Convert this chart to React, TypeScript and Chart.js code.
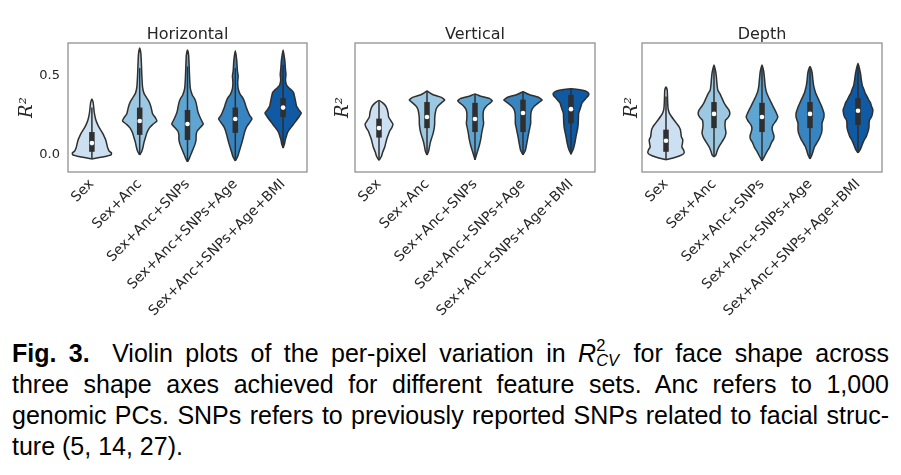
import React, { useEffect, useRef } from "react";
import { Chart, registerables } from "chart.js";

Chart.register(...registerables);

// ---------------- data ----------------
const featureSets = ["Sex", "Sex+Anc", "Sex+Anc+SNPs", "Sex+Anc+SNPs+Age", "Sex+Anc+SNPs+Age+BMI"];
const panelTitles = ["Horizontal", "Vertical", "Depth"];
const yTickValues = [0.0, 0.5];
const yAxisMin = -0.108;
const yAxisMax = 0.709;
const violinColors = ["#cde0f1", "#9cc8e2", "#5fa5d2", "#3784c0", "#0f5aa3"];

// Horizontal: violin outline knots (R² value) and half-widths (category units)
const horizontalY = [
  [-0.025, -0.012, 0.0, 0.012, 0.025, 0.045, 0.07, 0.095, 0.115, 0.135, 0.155, 0.175, 0.2, 0.225, 0.25, 0.28, 0.31, 0.335, 0.354],
  [0.0, 0.02, 0.05, 0.08, 0.11, 0.14, 0.17, 0.195, 0.215, 0.235, 0.26, 0.285, 0.31, 0.335, 0.36, 0.39, 0.43, 0.5, 0.58, 0.64, 0.677],
  [-0.044, -0.02, 0.01, 0.04, 0.07, 0.1, 0.125, 0.15, 0.175, 0.196, 0.215, 0.24, 0.27, 0.3, 0.33, 0.355, 0.38, 0.42, 0.48, 0.56, 0.63, 0.665],
  [-0.038, -0.01, 0.02, 0.05, 0.08, 0.115, 0.15, 0.18, 0.205, 0.23, 0.25, 0.27, 0.3, 0.33, 0.36, 0.385, 0.42, 0.46, 0.5, 0.53, 0.6, 0.66],
  [0.044, 0.07, 0.095, 0.12, 0.14, 0.16, 0.18, 0.2, 0.22, 0.245, 0.265, 0.285, 0.31, 0.34, 0.37, 0.395, 0.41, 0.425, 0.445, 0.475, 0.51, 0.54, 0.6, 0.665],
];
const horizontalW = [
  [0, 0.25, 0.4, 0.41, 0.36, 0.33, 0.31, 0.29, 0.26, 0.23, 0.19, 0.15, 0.11, 0.08, 0.06, 0.045, 0.035, 0.025, 0],
  [0, 0.04, 0.07, 0.09, 0.12, 0.15, 0.2, 0.28, 0.36, 0.33, 0.27, 0.25, 0.23, 0.2, 0.15, 0.09, 0.06, 0.045, 0.035, 0.025, 0],
  [0, 0.04, 0.08, 0.12, 0.16, 0.18, 0.18, 0.2, 0.27, 0.33, 0.3, 0.26, 0.22, 0.2, 0.18, 0.15, 0.1, 0.06, 0.045, 0.035, 0.025, 0],
  [0, 0.05, 0.08, 0.11, 0.14, 0.17, 0.2, 0.24, 0.3, 0.35, 0.3, 0.27, 0.23, 0.2, 0.16, 0.1, 0.06, 0.05, 0.06, 0.045, 0.03, 0],
  [0, 0.03, 0.045, 0.07, 0.09, 0.13, 0.18, 0.23, 0.28, 0.34, 0.38, 0.33, 0.28, 0.26, 0.24, 0.22, 0.18, 0.12, 0.07, 0.05, 0.06, 0.05, 0.035, 0],
];
const horizontalQ1 = [0.02, 0.127, 0.095, 0.14, 0.24];
const horizontalQ3 = [0.145, 0.3, 0.285, 0.3, 0.36];
const horizontalMedian = [0.075, 0.215, 0.196, 0.228, 0.3];
const horizontalLow = [-0.02, 0.0, -0.04, -0.035, 0.06];
const horizontalHigh = [0.3, 0.55, 0.56, 0.55, 0.57];

// Vertical
const verticalY = [
  [-0.035, -0.01, 0.02, 0.05, 0.075, 0.1, 0.125, 0.15, 0.175, 0.195, 0.215, 0.24, 0.265, 0.29, 0.31, 0.33, 0.345],
  [0.0, 0.02, 0.05, 0.08, 0.11, 0.14, 0.17, 0.2, 0.23, 0.26, 0.29, 0.31, 0.33, 0.348, 0.365, 0.38, 0.395, 0.405],
  [-0.03, 0.0, 0.03, 0.06, 0.1, 0.14, 0.17, 0.2, 0.23, 0.265, 0.29, 0.31, 0.328, 0.342, 0.358, 0.372, 0.386],
  [0.0, 0.03, 0.075, 0.11, 0.14, 0.17, 0.2, 0.235, 0.265, 0.29, 0.31, 0.33, 0.348, 0.365, 0.38, 0.392, 0.4],
  [0.005, 0.04, 0.075, 0.11, 0.14, 0.17, 0.2, 0.235, 0.265, 0.3, 0.33, 0.355, 0.375, 0.39, 0.405, 0.415, 0.42],
];
const verticalW = [
  [0, 0.05, 0.08, 0.12, 0.14, 0.16, 0.19, 0.22, 0.27, 0.29, 0.25, 0.2, 0.19, 0.17, 0.14, 0.08, 0],
  [0, 0.03, 0.05, 0.07, 0.1, 0.13, 0.15, 0.16, 0.16, 0.17, 0.19, 0.23, 0.3, 0.37, 0.3, 0.14, 0.05, 0],
  [0, 0.03, 0.06, 0.09, 0.12, 0.14, 0.16, 0.18, 0.17, 0.17, 0.19, 0.24, 0.31, 0.36, 0.3, 0.12, 0],
  [0, 0.05, 0.08, 0.1, 0.12, 0.14, 0.16, 0.16, 0.165, 0.19, 0.24, 0.32, 0.4, 0.32, 0.15, 0.06, 0],
  [0, 0.05, 0.08, 0.1, 0.12, 0.14, 0.15, 0.155, 0.16, 0.2, 0.23, 0.3, 0.36, 0.37, 0.3, 0.15, 0],
];
const verticalQ1 = [0.11, 0.17, 0.145, 0.145, 0.2];
const verticalQ3 = [0.23, 0.335, 0.33, 0.35, 0.38];
const verticalMedian = [0.17, 0.24, 0.228, 0.266, 0.29];
const verticalLow = [-0.03, 0.0, -0.03, 0.0, 0.005];
const verticalHigh = [0.34, 0.4, 0.385, 0.4, 0.42];

// Depth
const depthY = [
  [-0.03, -0.015, 0.0, 0.015, 0.035, 0.05, 0.07, 0.095, 0.115, 0.14, 0.16, 0.18, 0.2, 0.22, 0.245, 0.265, 0.29, 0.33, 0.38, 0.41, 0.43],
  [-0.013, 0.0, 0.02, 0.044, 0.065, 0.085, 0.11, 0.14, 0.16, 0.18, 0.2, 0.22, 0.24, 0.26, 0.285, 0.31, 0.33, 0.35, 0.37, 0.39, 0.41, 0.44, 0.475, 0.52, 0.57],
  [-0.038, -0.01, 0.02, 0.05, 0.08, 0.1, 0.12, 0.14, 0.165, 0.19, 0.215, 0.24, 0.265, 0.29, 0.32, 0.345, 0.37, 0.4, 0.44, 0.49, 0.53, 0.57],
  [-0.025, 0.0, 0.03, 0.055, 0.075, 0.095, 0.115, 0.14, 0.16, 0.18, 0.2, 0.22, 0.24, 0.265, 0.285, 0.31, 0.33, 0.35, 0.37, 0.39, 0.41, 0.44, 0.475, 0.52, 0.56],
  [0.013, 0.03, 0.05, 0.075, 0.095, 0.115, 0.14, 0.16, 0.18, 0.2, 0.22, 0.24, 0.26, 0.285, 0.31, 0.33, 0.35, 0.37, 0.39, 0.41, 0.44, 0.475, 0.52, 0.58],
];
const depthW = [
  [0, 0.2, 0.33, 0.38, 0.36, 0.33, 0.34, 0.35, 0.32, 0.31, 0.3, 0.27, 0.22, 0.17, 0.11, 0.07, 0.045, 0.035, 0.03, 0.025, 0],
  [0, 0.04, 0.06, 0.09, 0.13, 0.17, 0.22, 0.25, 0.24, 0.23, 0.23, 0.24, 0.3, 0.33, 0.31, 0.25, 0.21, 0.18, 0.15, 0.12, 0.08, 0.065, 0.055, 0.04, 0],
  [0, 0.05, 0.1, 0.16, 0.2, 0.24, 0.25, 0.23, 0.21, 0.23, 0.29, 0.33, 0.3, 0.26, 0.21, 0.17, 0.13, 0.09, 0.065, 0.05, 0.035, 0],
  [0, 0.04, 0.07, 0.1, 0.14, 0.18, 0.21, 0.24, 0.25, 0.25, 0.25, 0.27, 0.29, 0.29, 0.27, 0.24, 0.21, 0.18, 0.15, 0.12, 0.1, 0.075, 0.06, 0.045, 0],
  [0, 0.04, 0.07, 0.1, 0.13, 0.17, 0.2, 0.22, 0.23, 0.23, 0.24, 0.28, 0.3, 0.31, 0.28, 0.26, 0.22, 0.19, 0.15, 0.13, 0.09, 0.07, 0.05, 0],
];
const depthQ1 = [0.02, 0.17, 0.145, 0.17, 0.19];
const depthQ3 = [0.16, 0.335, 0.33, 0.335, 0.36];
const depthMedian = [0.09, 0.26, 0.24, 0.26, 0.28];
const depthLow = [-0.025, -0.01, -0.035, -0.02, 0.015];
const depthHigh = [0.37, 0.55, 0.55, 0.54, 0.56];

// ---------------- chart building ----------------
type PanelData = {
  title: string;
  ys: number[][];
  ws: number[][];
  q1: number[];
  q3: number[];
  med: number[];
  lo: number[];
  hi: number[];
};

const panelsData: PanelData[] = [
  { title: panelTitles[0], ys: horizontalY, ws: horizontalW, q1: horizontalQ1, q3: horizontalQ3, med: horizontalMedian, lo: horizontalLow, hi: horizontalHigh },
  { title: panelTitles[1], ys: verticalY, ws: verticalW, q1: verticalQ1, q3: verticalQ3, med: verticalMedian, lo: verticalLow, hi: verticalHigh },
  { title: panelTitles[2], ys: depthY, ws: depthW, q1: depthQ1, q3: depthQ3, med: depthMedian, lo: depthLow, hi: depthHigh },
];

// layout (style) of each panel canvas, relative to the root container
const panelLayout = [
  { left: 0, width: 307, yWidth: 60, showTicks: true, titlePad: 8.2 },
  { left: 317, width: 278, yWidth: 30, showTicks: false, titlePad: 7.2 },
  { left: 604, width: 278, yWidth: 30, showTicks: false, titlePad: 9.2 },
];
const CANVAS_TOP = 12;
const CANVAS_HEIGHT = 316;
const X_AXIS_HEIGHT = 164;
const LINE_COLOR = "#2f2f2f";
const TEXT_COLOR = "#262626";

function buildDatasets(p: PanelData) {
  const ds: any[] = [];
  p.ys.forEach((ys, i) => {
    const ws = p.ws[i];
    const right = ys.map((y, k) => ({ x: i + ws[k], y }));
    const left = ys.map((y, k) => ({ x: i - ws[k], y })).reverse();
    const outline = [...right, ...left.slice(1)];
    ds.push({
      data: outline,
      showLine: true,
      fill: "shape",
      backgroundColor: violinColors[i],
      borderColor: LINE_COLOR,
      borderWidth: 1.5,
      borderJoinStyle: "round",
      pointRadius: 0,
      pointHoverRadius: 0,
      tension: 0.15,
      order: 3,
    });
    ds.push({
      data: [{ x: i, y: p.lo[i] }, { x: i, y: p.hi[i] }],
      showLine: true,
      fill: false,
      borderColor: LINE_COLOR,
      borderWidth: 1.5,
      pointRadius: 0,
      order: 2,
    });
    ds.push({
      data: [{ x: i, y: p.q1[i] }, { x: i, y: p.q3[i] }],
      showLine: true,
      fill: false,
      borderColor: LINE_COLOR,
      borderWidth: 5.5,
      borderCapStyle: "butt",
      pointRadius: 0,
      order: 1,
    });
    ds.push({
      data: [{ x: i, y: p.med[i] }],
      showLine: false,
      pointRadius: 2.3,
      pointBackgroundColor: "#ffffff",
      pointBorderWidth: 0,
      order: 0,
    });
  });
  return ds;
}

const framePlugin = {
  id: "frame",
  afterDatasetsDraw(chart: any) {
    const { ctx, chartArea } = chart;
    const { left, top, right, bottom } = chartArea;
    ctx.save();
    ctx.strokeStyle = "#8c8c8c";
    ctx.lineWidth = 1.25;
    ctx.strokeRect(left, top, right - left, bottom - top);
    ctx.restore();
  },
};

function Panel({ index }: { index: number }) {
  const ref = useRef<HTMLCanvasElement | null>(null);
  const lay = panelLayout[index];
  const data = panelsData[index];
  useEffect(() => {
    if (!ref.current) return;
    const chart = new Chart(ref.current, {
      type: "scatter",
      data: { datasets: buildDatasets(data) },
      options: {
        responsive: false,
        animation: false,
        devicePixelRatio: 1,
        events: [],
        layout: { padding: { left: 0, right: 8, top: 0, bottom: 0 } },
        plugins: {
          legend: { display: false },
          tooltip: { enabled: false },
          title: {
            display: true,
            text: data.title,
            fullSize: false,
            color: TEXT_COLOR,
            font: { family: "DejaVu Sans", size: 16, weight: "normal", lineHeight: 1 },
            padding: { top: 7, bottom: 0 },
          },
        },
        scales: {
          x: {
            type: "linear",
            min: -0.5,
            max: 4.5,
            afterBuildTicks: (s: any) => {
              s.ticks = featureSets.map((_, i) => ({ value: i }));
            },
            afterFit: (s: any) => {
              s.height = X_AXIS_HEIGHT;
            },
            grid: { display: false, drawTicks: false },
            border: { display: false },
            ticks: {
              autoSkip: false,
              minRotation: 45,
              maxRotation: 45,
              padding: 4,
              color: TEXT_COLOR,
              font: { family: "DejaVu Sans", size: 14 },
              callback: (v: any) => featureSets[Math.round(Number(v))] ?? "",
            },
          },
          y: {
            type: "linear",
            min: yAxisMin,
            max: yAxisMax,
            afterBuildTicks: (s: any) => {
              s.ticks = yTickValues.map((v) => ({ value: v }));
            },
            afterFit: (s: any) => {
              s.width = lay.yWidth;
            },
            grid: { display: false, drawTicks: false },
            border: { display: false },
            ticks: {
              display: lay.showTicks,
              padding: 8,
              color: TEXT_COLOR,
              font: { family: "DejaVu Sans", size: 13 },
              callback: (v: any) => Number(v).toFixed(1),
            },
            title: {
              display: true,
              text: "R²",
              color: TEXT_COLOR,
              font: { family: "DejaVu Serif", style: "italic", size: 18, lineHeight: 1.2 },
              padding: { top: lay.titlePad, bottom: 0 },
            },
          },
        },
      },
      plugins: [framePlugin],
    } as any);
    return () => chart.destroy();
  }, [index]);
  return (
    <canvas
      ref={ref}
      width={lay.width}
      height={CANVAS_HEIGHT}
      style={{ position: "absolute", left: lay.left, top: CANVAS_TOP, width: lay.width, height: CANVAS_HEIGHT }}
    />
  );
}

const captionLine: React.CSSProperties = {
  height: 31.2,
  lineHeight: "31.2px",
  whiteSpace: "nowrap",
  textAlign: "justify",
  textAlignLast: "justify",
};

export default function App() {
  return (
    <div style={{ position: "relative", width: 885, height: 459, background: "#ffffff" }}>
      {panelsData.map((_, i) => (
        <Panel key={i} index={i} />
      ))}
      <div
        style={{
          position: "absolute",
          left: 4,
          top: 329.5,
          width: 877,
          fontFamily: "'Liberation Sans', Arial, sans-serif",
          fontSize: 25,
          color: "#000",
        }}
      >
        <div style={captionLine}>
          <b style={{ marginRight: 10 }}>Fig. 3.</b> Violin plots of the per-pixel variation in{" "}
          <i>R</i>
          <span
            style={{
              display: "inline-block",
              fontSize: "0.66em",
              lineHeight: 0.9,
              verticalAlign: -4,
              textAlign: "left",
              marginRight: 2,
            }}
          >
            <span style={{ display: "block" }}>2</span>
            <span style={{ display: "block", fontStyle: "italic" }}>CV</span>
          </span>{" "}
          for face shape across
        </div>
        <div style={captionLine}>three shape axes achieved for different feature sets. Anc refers to 1,000</div>
        <div style={captionLine}>genomic PCs. SNPs refers to previously reported SNPs related to facial struc-</div>
        <div style={{ ...captionLine, textAlign: "left", textAlignLast: "left" }}>ture (5, 14, 27).</div>
      </div>
    </div>
  );
}
